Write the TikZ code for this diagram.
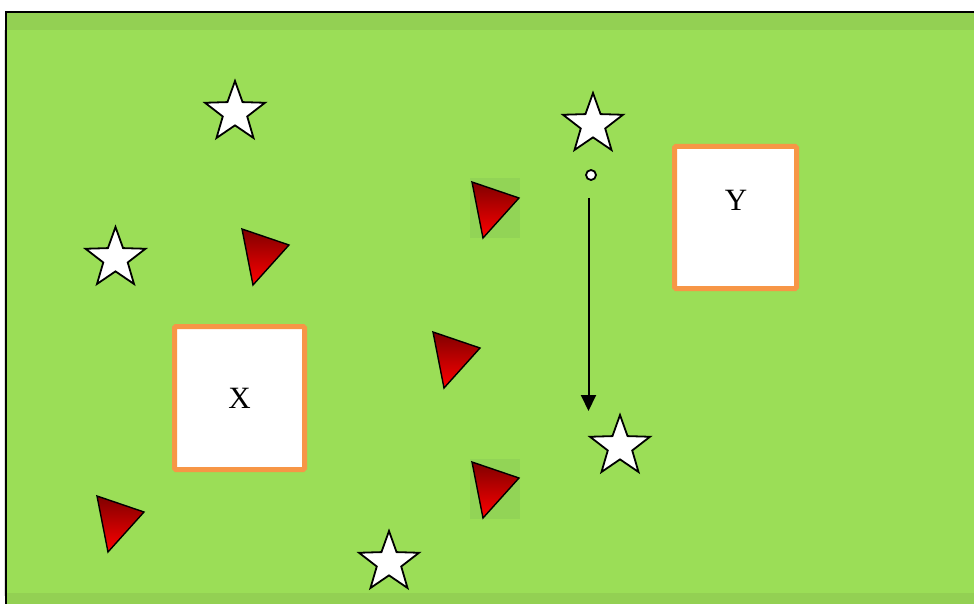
\documentclass[tikz,border=0pt]{standalone}
\usepackage{fontspec}
\setmainfont{Liberation Serif}
\usetikzlibrary{shapes.geometric,arrows.meta}
\definecolor{field}{RGB}{155,222,87}
\definecolor{band}{RGB}{147,208,83}
\definecolor{patch}{RGB}{146,212,86}
\definecolor{orng}{RGB}{247,150,70}
\tikzset{
  starnode/.style={star, star points=5, star point ratio=2.45, minimum size=63pt, inner sep=0pt, draw=black, line width=1.8pt, fill=white},
  zone/.style={draw=orng, line width=5pt, fill=white, inner sep=0pt, rounded corners=1.5pt},
  zlabel/.style={font=\fontsize{31}{36}\selectfont, inner sep=0pt},
  flag/.style={top color=red!50!black, bottom color=red, draw=black, line width=1.4pt, line join=miter},
  arrowline/.style={line width=2pt, -{Triangle[width=15pt,length=16pt]}},
}
\begin{document}
\begin{tikzpicture}[x=1pt,y=-1pt]
\useasboundingbox (0,0) rectangle (974,604);
\fill[white] (0,0) rectangle (974,604);
% field
\fill[gray!25] (3.5,30) rectangle (5.5,596);
\fill[field] (6,12) rectangle (980,610);
\fill[band] (6,12) rectangle (980,30);
\fill[band] (6,593) rectangle (980,610);
\draw[line width=2pt] (6,610) -- (6,12) -- (980,12);
% patches behind two flags
\fill[patch] (470,178) rectangle (520,238);
\fill[patch] (470,459) rectangle (520,519);
% flags (red triangles)
\foreach \px/\py in {242/229, 97/496, 433/332, 472/182, 472/462}{
  \shadedraw[flag] (\px,\py) -- ++(47,16) -- ++(-36,40) -- cycle;
}
% zones
\node (X) [zone, minimum width=130pt, minimum height=143pt] at (239.5,398) {};
\node (xl) [zlabel] at (239.5,398) {X};
\node (Y) [zone, minimum width=122pt, minimum height=142pt] at (735.5,217.5) {};
\node (yl) [zlabel] at (736,200) {Y};
% stars
\node (s1) [starnode] at (235,112.5) {};
\node (s2) [starnode] at (115.5,258.5) {};
\node (s3) [starnode] at (593,124.5) {};
\node (s4) [starnode] at (620,446.5) {};
\node (s5) [starnode] at (389,562.5) {};
% ball and run
\node (dot) [circle, draw, fill=white, line width=1.8pt, minimum size=10pt, inner sep=0pt] at (591,175) {};
\coordinate (a1) at (588.5,198);
\coordinate (a2) at (588.5,411);
\draw[arrowline] (a1) -- (a2);
\end{tikzpicture}
\end{document}
